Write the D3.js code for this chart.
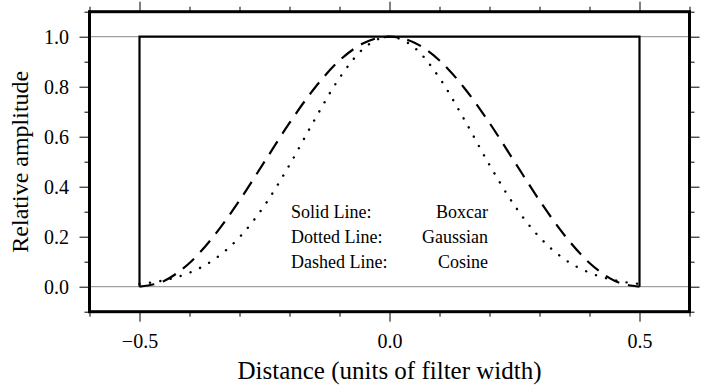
<!DOCTYPE html>
<html>
  <head>
    <meta charset="utf-8">
    <script src="https://d3js.org/d3.v7.min.js"></script>
    <style>
      body, html {
        margin: 0;
        background: white;
      }
      text {
        font-family: "Liberation Serif", "Times New Roman", serif;
        fill: black;
      }
      .axis path { display: none; }
      .axis line { stroke: black; stroke-width: 1px; }
      .axis text { font-size: 20px; }
    </style>
  </head>
  <body>
    <div id="chart"></div>
    <script>
      // values
      var xs = [-0.5, -0.45, -0.4, -0.35, -0.3, -0.25, -0.2, -0.15, -0.1, -0.05, 0,
                0.05, 0.1, 0.15, 0.2, 0.25, 0.3, 0.35, 0.4, 0.45, 0.5];
      var cosine = [0, 0.024, 0.095, 0.206, 0.345, 0.5, 0.655, 0.794, 0.905, 0.976, 1,
                    0.976, 0.905, 0.794, 0.655, 0.5, 0.345, 0.206, 0.095, 0.024, 0];
      var gaussian = [0.011, 0.026, 0.056, 0.11, 0.198, 0.325, 0.487, 0.667, 0.835, 0.956, 1,
                      0.956, 0.835, 0.667, 0.487, 0.325, 0.198, 0.11, 0.056, 0.026, 0.011];
      var boxX = [-0.5, -0.5, 0.5, 0.5];
      var boxY = [0, 1, 1, 0];

      var xMajor = [-0.5, 0, 0.5];
      var xMinor = [-0.6, -0.4, -0.3, -0.2, -0.1, 0.1, 0.2, 0.3, 0.4, 0.6];
      var yMajor = [0, 0.2, 0.4, 0.6, 0.8, 1.0];
      var yMinor = [-0.1, 0.1, 0.3, 0.5, 0.7, 0.9, 1.1];
      var gridY = [0, 1];

      var legendLeft = ["Solid Line:", "Dotted Line:", "Dashed Line:"];
      var legendRight = ["Boxcar", "Gaussian", "Cosine"];

      var width = 701, height = 387;
      var m = {left: 89.5, right: 689.5, top: 11.7, bottom: 311.7};

      var svg = d3.select("#chart").append("svg")
        .attr("width", width)
        .attr("height", height);

      var x = d3.scaleLinear().domain([-0.6, 0.6]).range([m.left, m.right]);
      var y = d3.scaleLinear().domain([-0.1, 1.1]).range([m.bottom, m.top]);
      var fmt = d3.format(".1f");

      // gray lines at 0 and 1
      svg.append("g").selectAll("line")
        .data(gridY)
        .enter().append("line")
          .attr("x1", m.left).attr("x2", m.right)
          .attr("y1", d => y(d)).attr("y2", d => y(d))
          .attr("stroke", "#8a8a8a")
          .attr("stroke-width", 1);

      // axes: majors with labels, minors short
      function addAxis(axisFn, pos, transform, ticks, size, labels, pad) {
        var a = axisFn(pos).tickValues(ticks).tickSize(size).tickSizeOuter(0)
          .tickPadding(pad || 3)
          .tickFormat(labels ? fmt : "");
        return svg.append("g").attr("class", "axis")
          .attr("transform", transform).call(a);
      }
      addAxis(d3.axisBottom, x, "translate(0," + m.bottom + ")", xMajor, 10, true, 12);
      addAxis(d3.axisBottom, x, "translate(0," + m.bottom + ")", xMinor, 5, false);
      addAxis(d3.axisTop, x, "translate(0," + m.top + ")", xMajor, 10, false);
      addAxis(d3.axisTop, x, "translate(0," + m.top + ")", xMinor, 5, false);
      var yl = addAxis(d3.axisLeft, y, "translate(" + m.left + ",0)", yMajor, 10, true, 10.5);
      yl.selectAll("text").attr("dy", "0.36em");
      addAxis(d3.axisLeft, y, "translate(" + m.left + ",0)", yMinor, 5, false);
      addAxis(d3.axisRight, y, "translate(" + m.right + ",0)", yMajor, 10, false);
      addAxis(d3.axisRight, y, "translate(" + m.right + ",0)", yMinor, 5, false);

      // curves
      var line = d3.line()
        .x(d => x(d[0]))
        .y(d => y(d[1]));
      var smooth = d3.line()
        .x(d => x(d[0]))
        .y(d => y(d[1]))
        .curve(d3.curveMonotoneX);

      svg.append("path")
        .attr("d", line(d3.zip(boxX, boxY)))
        .attr("fill", "none")
        .attr("stroke", "black")
        .attr("stroke-width", 2.2);

      svg.append("path")
        .attr("d", smooth(d3.zip(xs, gaussian)))
        .attr("fill", "none")
        .attr("stroke", "black")
        .attr("stroke-width", 2.4)
        .attr("stroke-linecap", "round")
        .attr("stroke-dasharray", "0.1,10.4");

      svg.append("path")
        .attr("d", smooth(d3.zip(xs, cosine)))
        .attr("fill", "none")
        .attr("stroke", "black")
        .attr("stroke-width", 2.2)
        .attr("stroke-dasharray", "15,9");

      // frame
      svg.append("rect")
        .attr("x", m.left).attr("y", m.top)
        .attr("width", m.right - m.left).attr("height", m.bottom - m.top)
        .attr("fill", "none")
        .attr("stroke", "black")
        .attr("stroke-width", 3);

      // legend text
      var lg = svg.append("g").style("font-size", "18px");
      lg.selectAll("text.l")
        .data(legendLeft)
        .enter().append("text")
          .attr("class", "l")
          .attr("x", 291)
          .attr("y", (d, i) => 218 + i * 25)
          .text(d => d);
      lg.selectAll("text.r")
        .data(legendRight)
        .enter().append("text")
          .attr("class", "r")
          .attr("x", 488)
          .attr("y", (d, i) => 218 + i * 25)
          .attr("text-anchor", "end")
          .text(d => d);

      // titles
      svg.append("text")
        .attr("x", (m.left + m.right) / 2)
        .attr("y", 379)
        .attr("text-anchor", "middle")
        .style("font-size", "25px")
        .text("Distance (units of filter width)");

      svg.append("text")
        .attr("transform", "translate(28," + (m.top + m.bottom) / 2 + ") rotate(-90)")
        .attr("text-anchor", "middle")
        .style("font-size", "24px")
        .text("Relative amplitude");
    </script>
  </body>
</html>
